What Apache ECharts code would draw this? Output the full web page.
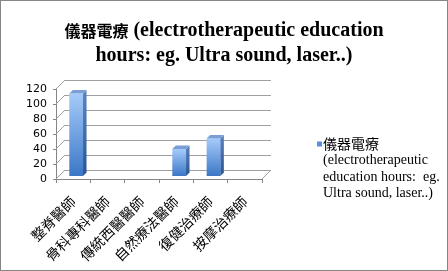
<!DOCTYPE html>
<html><head><meta charset="utf-8">
<script src="https://cdn.jsdelivr.net/npm/echarts@6/dist/echarts.min.js"></script>
<style>
html,body{margin:0;padding:0;background:#fff;}
#c{width:448px;height:271px;box-sizing:border-box;border:1px solid #868686;}
</style></head>
<body><div id="c"></div>
<script>
const categories = ['整脊醫師','骨科專科醫師','傳統西醫醫師','自然療法醫師','復健治療師','按摩治療師'];
const values = [110, 0, 0, 36, 50, 0];
const yTicks = [0, 20, 40, 60, 80, 100, 120];
const seriesName = '儀器電療 (electrotherapeutic education hours: eg. Ultra sound, laser..)';
const titleCJK = '儀器電療';
const titleLine1 = ' (electrotherapeutic education';
const titleLine2 = 'hours: eg. Ultra sound, laser..)';
const legendLines = ['儀器電療', '(electrotherapeutic', 'education hours:  eg.', 'Ultra sound, laser..)'];

const chart = echarts.init(document.getElementById('c'), null, {renderer:'canvas'});
const frontGrad = new echarts.graphic.LinearGradient(0,0,0,1,[{offset:0,color:'#a6cbfa'},{offset:1,color:'#3b77c6'}]);
const DEPTH = 9;

function renderBar(params, api){
  const idx = api.value(0), v = api.value(1);
  if (!(v > 0)) return;
  const top = api.coord([idx, v]);
  const base = api.coord([idx, 0]);
  const bw = api.size([1,0])[0]*0.4;
  const ox = 3, oy = -3, dx = 3.5, dy = -3.5;
  const x0 = top[0]-bw/2+ox, x1 = x0+bw;
  const yt = top[1]+oy, yb = base[1]+oy;
  return {type:'group', children:[
    {type:'rect', shape:{x:x0,y:yt,width:bw,height:yb-yt}, style:{fill:new echarts.graphic.LinearGradient(0,0,0,1,[{offset:0,color:'#a6cbfa'},{offset:1,color:'#3b77c6'}])}},
    {type:'polygon', shape:{points:[[x1,yt],[x1+dx,yt+dy],[x1+dx,yb+dy],[x1,yb]]}, style:{fill:new echarts.graphic.LinearGradient(0,0,0,1,[{offset:0,color:'#5a83c0'},{offset:1,color:'#2a5596'}])}},
    {type:'polygon', shape:{points:[[x0,yt],[x0+dx,yt+dy],[x1+dx,yt+dy],[x1,yt]]}, style:{fill:'#7a9fd6'}}
  ]};
}

function renderFrame(params, api){
  const v = api.value(0);
  const cs = params.coordSys;
  const y = api.coord([0, v])[1];
  const ch = [{type:'line', shape:{x1:cs.x, y1:y, x2:cs.x+DEPTH, y2:y-DEPTH}, style:{stroke:'#a0a0a0', lineWidth:1}}];
  if (v === 0) {
    const xr = cs.x + cs.width;
    ch.push({type:'line', shape:{x1:xr, y1:y, x2:xr+DEPTH, y2:y-DEPTH}, style:{stroke:'#a0a0a0', lineWidth:1}});
  }
  return {type:'group', children:ch};
}

chart.setOption({
  animation:false,
  title:{
    text:'{c|' + titleCJK + '}{l|' + titleLine1 + '}\n{l|' + titleLine2 + '}', left:'center', top:12,
    textStyle:{fontWeight:'bold', color:'#000', lineHeight:25, rich:{
      c:{fontFamily:'"Noto Sans CJK TC",sans-serif', fontSize:16, fontWeight:'bold', color:'#000', lineHeight:25},
      l:{fontFamily:'"Liberation Serif",serif', fontSize:20, fontWeight:'bold', color:'#000', lineHeight:25}
    }}
  },
  legend:{
    left:306, top:131, orient:'vertical', icon:'rect', itemWidth:0, itemHeight:0, itemGap:0,
    data:[seriesName],
    formatter:function(){ return '{i|}{g|}{a|' + legendLines[0] + '}\n{s|}{b|' + legendLines[1] + '}\n{s|}{b|' + legendLines[2] + '}\n{s|}{b|' + legendLines[3] + '}'; },
    textStyle:{padding:[0,0,0,0], rich:{
      i:{width:5, height:5, backgroundColor:'#5b8fd8'},
      g:{width:1},
      s:{width:6},
      a:{fontFamily:'"Noto Sans CJK TC",sans-serif', fontSize:14, lineHeight:17, color:'#000'},
      b:{fontFamily:'"Liberation Serif",serif', fontSize:14, lineHeight:16.5, color:'#000'}
    }}
  },
  grid:[
    {left:55, right:185, top:88, bottom:91},
    {left:64, right:176, top:79, bottom:100}
  ],
  xAxis:[
    {type:'category', gridIndex:0, data:categories,
     axisLine:{lineStyle:{color:'#868686'}},
     axisTick:{show:true, length:4, lineStyle:{color:'#868686'}},
     axisLabel:{rotate:45, interval:0, margin:20, fontFamily:'"Noto Sans CJK TC",sans-serif', fontSize:14, color:'#000'}},
    {type:'category', gridIndex:1, data:categories, show:false}
  ],
  yAxis:[
    {type:'value', gridIndex:0, min:0, max:120, interval:20,
     axisLine:{show:true, lineStyle:{color:'#868686'}},
     axisTick:{show:true, length:3, lineStyle:{color:'#868686'}},
     splitLine:{show:false},
     axisLabel:{margin:9, fontFamily:'"DejaVu Sans",sans-serif', fontSize:11, color:'#000'}},
    {type:'value', gridIndex:1, min:0, max:120, interval:20,
     axisLine:{show:false}, axisTick:{show:false}, axisLabel:{show:false},
     splitLine:{show:true, lineStyle:{color:'#a0a0a0', width:1}}}
  ],
  series:[
    {type:'custom', name:'frame', xAxisIndex:0, yAxisIndex:0, renderItem:renderFrame,
     data:yTicks.map(v=>[v]), encode:{y:0}, silent:true, z:1},
    {type:'custom', name:seriesName, xAxisIndex:0, yAxisIndex:0, renderItem:renderBar,
     itemStyle:{color:frontGrad},
     data:values.map((v,i)=>[i,v]), encode:{x:0, y:1}, z:3}
  ]
});
</script></body></html>
